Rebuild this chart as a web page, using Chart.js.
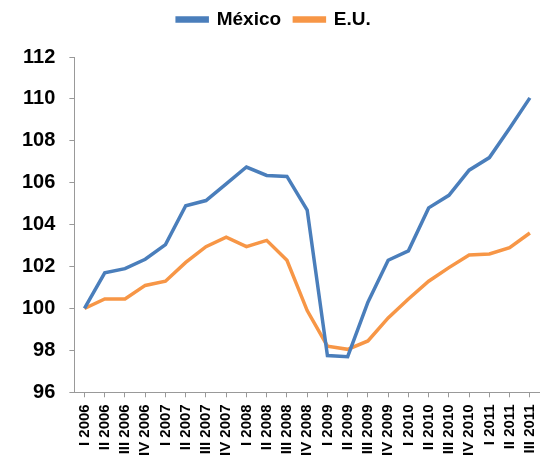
<!DOCTYPE html>
<html>
<head>
<meta charset="utf-8">
<script src="https://cdn.jsdelivr.net/npm/chart.js@4/dist/chart.umd.min.js"></script>
<style>
  body { margin: 0; background: #fff; }
</style>
</head>
<body>
<canvas id="myChart" width="540" height="474"></canvas>
<script>
const quarters = [
  "I 2006", "II 2006", "III 2006", "IV 2006",
  "I 2007", "II 2007", "III 2007", "IV 2007",
  "I 2008", "II 2008", "III 2008", "IV 2008",
  "I 2009", "II 2009", "III 2009", "IV 2009",
  "I 2010", "II 2010", "III 2010", "IV 2010",
  "I 2011", "II 2011", "III 2011",
];

const mexico = [
  100.0, 101.7, 101.9, 102.35,
  103.05, 104.9, 105.15, 105.95,
  106.75, 106.35, 106.3, 104.7,
  97.75, 97.7, 100.3, 102.3,
  102.75, 104.8, 105.4, 106.6,
  107.2, 108.6, 110.05,
];

const eu = [
  100.0, 100.45, 100.45, 101.1,
  101.3, 102.2, 102.95, 103.4,
  102.95, 103.25, 102.3, 99.9,
  98.2, 98.05, 98.45, 99.55,
  100.45, 101.3, 101.95, 102.55,
  102.6, 102.9, 103.6,
];

const yTicks = [96, 98, 100, 102, 104, 106, 108, 110, 112];

const family = "'Liberation Sans', Arial, sans-serif";

// extra room under the legend
const legendGap = {
  id: "legendGap",
  beforeInit(chart) {
    const fit = chart.legend.fit;
    chart.legend.fit = function () {
      fit.bind(chart.legend)();
      this.height += 18;
    };
  },
};

new Chart("myChart", {
  type: "line",
  data: {
    labels: quarters,
    datasets: [
      {
        label: "México",
        data: mexico,
        borderColor: "#4a7ebb",
        backgroundColor: "#4a7ebb",
        borderWidth: 3.5,
        pointRadius: 0,
        tension: 0,
      },
      {
        label: "E.U.",
        data: eu,
        borderColor: "#f79646",
        backgroundColor: "#f79646",
        borderWidth: 3.5,
        pointRadius: 0,
        tension: 0,
      },
    ],
  },
  plugins: [legendGap],
  options: {
    responsive: false,
    animation: false,
    layout: {
      padding: { left: 8, right: 0, top: 2, bottom: 11 },
    },
    plugins: {
      legend: {
        display: true,
        position: "top",
        labels: {
          boxWidth: 30,
          boxHeight: 3,
          padding: 8,
          color: "#000",
          font: { family: family, size: 19, weight: "bold" },
          generateLabels: (chart) => {
            const items = Chart.defaults.plugins.legend.labels.generateLabels(chart);
            items[0].text += " ";
            return items;
          },
        },
      },
      tooltip: { enabled: false },
    },
    scales: {
      x: {
        offset: true,
        afterFit: (s) => {
          s.paddingRight = 0;
        },
        grid: {
          display: true,
          drawOnChartArea: false,
          drawTicks: true,
          tickLength: 5,
          color: "#999",
        },
        border: { display: true, color: "#999" },
        ticks: {
          autoSkip: false,
          maxRotation: 90,
          minRotation: 90,
          padding: 7,
          color: "#000",
          font: { family: family, size: 15, weight: "bold" },
        },
      },
      y: {
        min: yTicks[0],
        max: yTicks[yTicks.length - 1],
        afterBuildTicks: (axis) => {
          axis.ticks = yTicks.map((v) => ({ value: v }));
        },
        grid: {
          display: true,
          drawOnChartArea: false,
          drawTicks: true,
          tickLength: 5,
          color: "#999",
        },
        border: { display: true, color: "#999" },
        ticks: {
          padding: 14,
          color: "#000",
          font: { family: family, size: 20, weight: "bold" },
        },
      },
    },
  },
});
</script>
</body>
</html>
